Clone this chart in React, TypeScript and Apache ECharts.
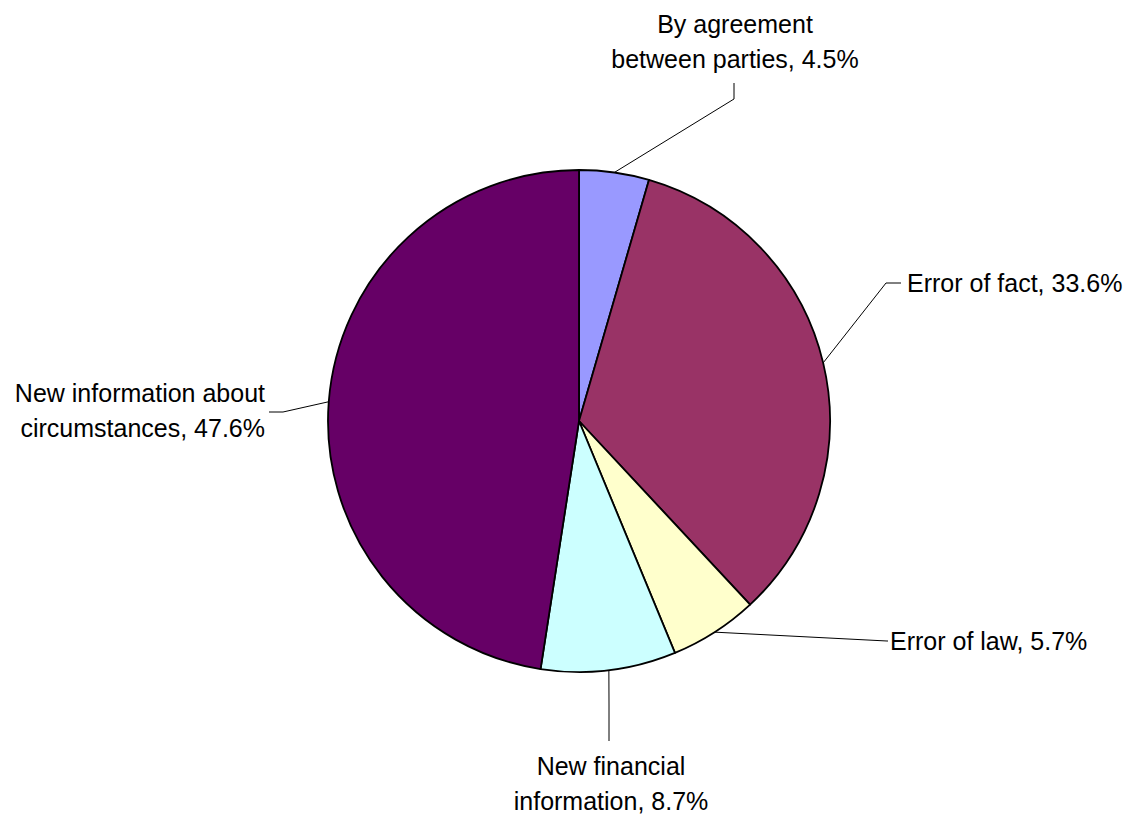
import React, { useEffect, useRef } from "react";
import * as echarts from "echarts";

// Reasons for revision, share of all revisions (%)
const categories = [
  "By agreement\nbetween parties",
  "Error of fact",
  "Error of law",
  "New financial\ninformation",
  "New information about\ncircumstances",
];
const shares = [4.5, 33.6, 5.7, 8.7, 47.6];
const sliceColors = ["#9999FF", "#993366", "#FFFFCC", "#CCFFFF", "#660066"];

// Where each callout sits: text anchor, alignment, and the leader-line bends
type Callout = {
  x: number;
  y: number;
  align: "left" | "center" | "right";
  bends: number[][];
};
const callouts: Callout[] = [
  { x: 735, y: 41, align: "center", bends: [[734, 99], [734, 83]] },
  { x: 907, y: 283, align: "left", bends: [[886, 283], [901, 283]] },
  { x: 890, y: 641, align: "left", bends: [[887, 641], [888, 641]] },
  { x: 611, y: 783, align: "center", bends: [[609, 705], [609, 741]] },
  { x: 265, y: 410, align: "right", bends: [[283, 412], [269, 412]] },
];

export default function App() {
  const ref = useRef<HTMLDivElement>(null);

  useEffect(() => {
    if (!ref.current) return;
    const chart = echarts.init(ref.current, null, { renderer: "svg" });
    chart.setOption({
      animation: false,
      backgroundColor: "#ffffff",
      series: [
        {
          type: "pie",
          center: [579, 421],
          radius: 251,
          startAngle: 90,
          clockwise: true,
          avoidLabelOverlap: false,
          data: categories.map((name, i) => ({
            name,
            value: shares[i],
            itemStyle: { color: sliceColors[i] },
          })),
          itemStyle: { borderColor: "#000000", borderWidth: 1.8 },
          emphasis: { disabled: true },
          label: {
            show: true,
            position: "outside",
            formatter: (p: any) => `${p.name}, ${p.value}%`,
            fontFamily: "'Liberation Sans', Arial, sans-serif",
            fontSize: 25,
            lineHeight: 35,
            color: "#000000",
          },
          labelLine: {
            show: true,
            smooth: false,
            lineStyle: { color: "#000000", width: 1 },
          },
          labelLayout: (params: any) => {
            const c = callouts[params.dataIndex];
            const anchor = params.labelLinePoints
              ? params.labelLinePoints[0]
              : c.bends[0];
            return {
              x: c.x,
              y: c.y,
              align: c.align,
              verticalAlign: "middle",
              labelLinePoints: [anchor, c.bends[0], c.bends[1]],
            };
          },
        },
      ],
    });
    return () => chart.dispose();
  }, []);

  return (
    <div
      ref={ref}
      style={{ position: "absolute", left: 0, top: 0, width: 1126, height: 825 }}
    />
  );
}
